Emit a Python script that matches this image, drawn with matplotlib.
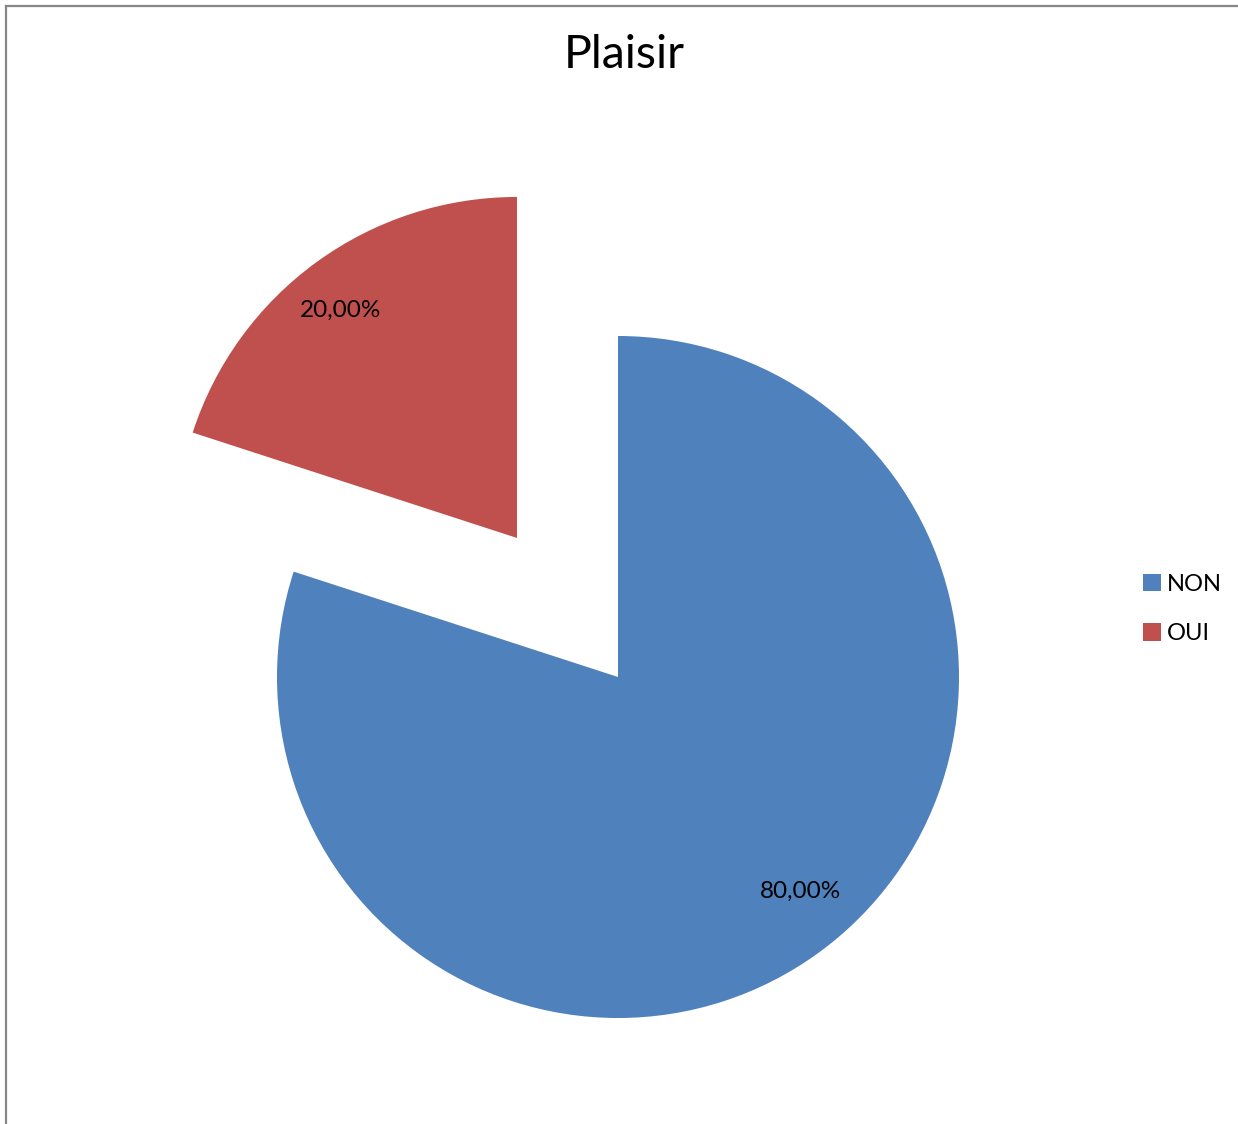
import numpy as np
import matplotlib
matplotlib.use('Agg')
import matplotlib.pyplot as plt
from matplotlib.lines import Line2D
from matplotlib.patches import Patch

plt.rcParams['font.family'] = ['Lato', 'DejaVu Sans']

categories = ['NON', 'OUI']
values = [80.0, 20.0]
colors = ['#4F81BD', '#C0504D']
explode = [0, 0.504]

W, H = 1238, 1124
fig = plt.figure(figsize=(W / 100, H / 100), dpi=100)

# axes over the whole figure, 1 data unit = pie radius (341 px)
cx, cy, r = 618, 677, 341
ax = fig.add_axes([0, 0, 1, 1])
wedges, _ = ax.pie(values, colors=colors, explode=explode, startangle=90,
                   counterclock=False, radius=1,
                   wedgeprops=dict(linewidth=0))
ax.set_xlim(-cx / r, (W - cx) / r)
ax.set_ylim(-(H - cy) / r, cy / r)
ax.set_aspect('auto')
ax.axis('off')

# percentage labels (Excel "best fit" style)
label_pos = [(-49.5, 0.826), (127.7, 0.845)]
for w, v, (ang, dist) in zip(wedges, values, label_pos):
    c = w.center
    x = c[0] + dist * np.cos(np.radians(ang))
    y = c[1] + dist * np.sin(np.radians(ang))
    ax.text(x, y, f"{v:.2f}%".replace('.', ','), ha='center', va='center',
            fontsize=17.5, color='black')

fig.text(624 / W, 1 - 55 / H, 'Plaisir', ha='center', va='center', fontsize=33.5)

handles = [Patch(facecolor=c, edgecolor='none') for c in colors]
fig.legend(handles, categories, loc='center left',
           bbox_to_anchor=(1122 / W, 1 - 609 / H), frameon=False,
           fontsize=17, handlelength=0.75, handleheight=0.75,
           handletextpad=0.25, labelspacing=1.2)

# chart frame (partly cropped)
gray = '#878787'
fig.add_artist(Line2D([5.5 / W, 1], [1 - 5.5 / H, 1 - 5.5 / H], color=gray, lw=1.6))
fig.add_artist(Line2D([5.5 / W, 5.5 / W], [0, 1 - 5.5 / H], color=gray, lw=1.6))

fig.savefig('out.png', dpi=100)
